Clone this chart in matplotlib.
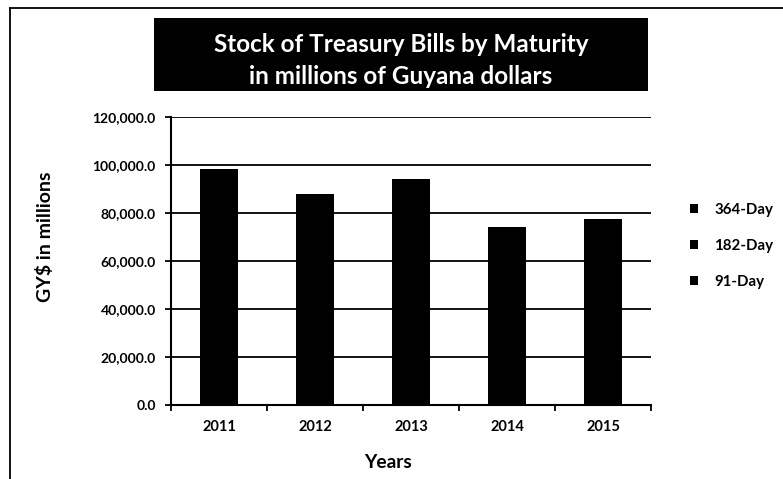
import matplotlib
matplotlib.use("Agg")
import matplotlib.pyplot as plt
from matplotlib.patches import Rectangle
from matplotlib.lines import Line2D
from matplotlib.ticker import FuncFormatter, FixedLocator
import numpy as np

plt.rcParams['font.family'] = ['Lato', 'DejaVu Sans']
plt.rcParams['font.weight'] = 'bold'

years = ["2011", "2012", "2013", "2014", "2015"]
# stock by maturity, GY$ millions (stack order bottom -> top)
day_91 = [7900, 6800, 7300, 5600, 6100]
day_182 = [7500, 7200, 7950, 6300, 6500]
day_364 = [83000, 74000, 79000, 62200, 65000]
series_names = ["91-Day", "182-Day", "364-Day"]
y_ticks = [0, 20000, 40000, 60000, 80000, 100000, 120000]

W, H = 783, 479
fig = plt.figure(figsize=(W / 100, H / 100), dpi=100)
ax = fig.add_axes([171 / W, 1 - 404.5 / H, (651 - 171) / W, (404.5 - 117) / H])

x = np.arange(len(years))
bottom = np.zeros(len(years))
handles = []
for name, vals in zip(series_names, [day_91, day_182, day_364]):
    b = ax.bar(x, vals, width=0.4, bottom=bottom, color="black",
               edgecolor="black", linewidth=0, label=name, zorder=3)
    handles.append(b)
    bottom += np.array(vals)

ax.set_xlim(-0.5, len(years) - 0.5)
ax.set_ylim(0, 120000)
ax.set_yticks(y_ticks)
ax.yaxis.set_major_formatter(FuncFormatter(lambda v, p: f"{v:,.1f}"))
ax.yaxis.grid(True, color="black", linewidth=1.3, zorder=1)
ax.set_axisbelow(True)

ax.set_xticks(x)
ax.set_xticklabels(years)
ax.xaxis.set_minor_locator(FixedLocator(np.arange(-0.5, len(years), 1.0)))
ax.tick_params(axis="x", which="major", length=0, pad=11, labelsize=10.5)
ax.tick_params(axis="x", which="minor", length=4, width=1.3, direction="out")
ax.tick_params(axis="y", which="major", length=4, width=1.3, pad=7, labelsize=10)

for side in ["top", "right"]:
    ax.spines[side].set_visible(False)
for side in ["left", "bottom"]:
    ax.spines[side].set_linewidth(1.5)
    ax.spines[side].set_color("black")

# legend with top-of-stack first
leg = fig.legend(handles[::-1], series_names[::-1], loc="center left",
                 bbox_to_anchor=(676 / W, 1 - 246 / H), frameon=False,
                 handlelength=0.55, handleheight=0.55, handletextpad=1.1,
                 labelspacing=1.45, fontsize=10.8)

# axis titles
fig.text(45 / W, 1 - 237 / H, "GY$ in millions", rotation=90, ha="center",
         va="center", fontsize=14, fontweight="bold")
fig.text(388 / W, 1 - 462 / H, "Years", ha="center", va="center",
         fontsize=13.8, fontweight="bold")

# title banner
fig.patches.append(Rectangle((154 / W, 1 - 91 / H), 494 / W, 73 / H,
                             transform=fig.transFigure, facecolor="black",
                             edgecolor="none", zorder=0))
fig.text(401 / W, 1 - 44 / H, "Stock of Treasury Bills by Maturity",
         ha="center", va="center", color="white", fontsize=17.5, fontweight="bold")
fig.text(401 / W, 1 - 76 / H, "in millions of Guyana dollars",
         ha="center", va="center", color="white", fontsize=17.5, fontweight="bold")

# outer frame
fig.lines.append(Line2D([10 / W, 1], [1 - 8 / H, 1 - 8 / H],
                        transform=fig.transFigure, color="black", linewidth=1.3))
fig.lines.append(Line2D([10 / W, 10 / W], [0, 1 - 8 / H],
                        transform=fig.transFigure, color="black", linewidth=1.3))

fig.savefig("out.png", dpi=100)
